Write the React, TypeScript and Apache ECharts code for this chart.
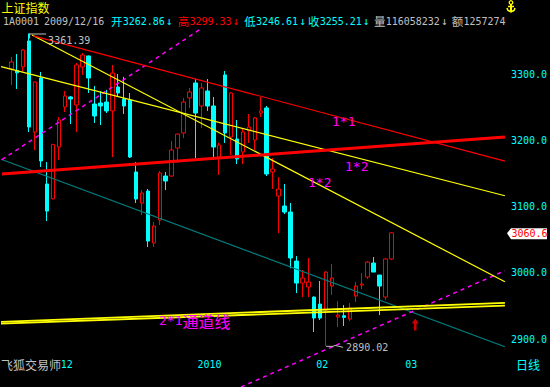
import React, { useEffect, useRef } from "react";
import * as echarts from "echarts";

// ---------- data ----------
// [open, close, low, high]
const candles: number[][] = [
  [3307.8, 3318.4, 3283.7, 3326.0],
  [3305.0, 3302.0, 3277.7, 3330.5],
  [3311.0, 3336.5, 3304.0, 3337.5],
  [3350.1, 3220.3, 3212.8, 3361.39],
  [3212.8, 3288.2, 3185.6, 3289.0],
  [3294.3, 3169.0, 3159.9, 3303.3],
  [3134.3, 3093.5, 3078.4, 3167.5],
  [3112.0, 3194.0, 3111.0, 3195.0],
  [3190.1, 3230.9, 3170.5, 3235.4],
  [3250.5, 3267.1, 3242.9, 3274.6],
  [3265.6, 3262.6, 3224.8, 3267.1],
  [3253.5, 3313.9, 3212.8, 3316.9],
  [3310.9, 3329.0, 3298.8, 3332.0],
  [3327.5, 3294.3, 3271.6, 3328.0],
  [3255.0, 3236.9, 3226.3, 3282.2],
  [3256.5, 3252.0, 3223.3, 3274.6],
  [3258.0, 3244.5, 3241.4, 3276.2],
  [3244.5, 3301.8, 3175.0, 3313.9],
  [3280.7, 3271.6, 3265.6, 3300.3],
  [3262.6, 3252.0, 3240.0, 3296.0],
  [3261.1, 3175.0, 3173.5, 3271.6],
  [3152.4, 3111.6, 3105.6, 3167.5],
  [3105.6, 3120.7, 3087.5, 3125.2],
  [3123.7, 3048.2, 3039.2, 3126.7],
  [3045.2, 3070.9, 3039.2, 3076.9],
  [3079.9, 3150.9, 3072.4, 3153.9],
  [3146.3, 3138.8, 3125.2, 3152.4],
  [3146.3, 3185.6, 3145.0, 3199.2],
  [3188.6, 3209.7, 3166.0, 3210.5],
  [3211.3, 3258.0, 3203.7, 3264.1],
  [3264.1, 3273.1, 3249.0, 3279.2],
  [3286.7, 3241.4, 3173.5, 3292.7],
  [3252.0, 3279.2, 3218.8, 3286.7],
  [3274.6, 3252.0, 3244.5, 3292.7],
  [3252.0, 3190.1, 3175.0, 3265.6],
  [3175.0, 3193.1, 3147.9, 3196.2],
  [3298.8, 3211.3, 3196.2, 3304.8],
  [3205.2, 3271.6, 3178.0, 3273.1],
  [3202.2, 3172.0, 3164.5, 3230.9],
  [3182.6, 3212.8, 3164.5, 3218.8],
  [3214.3, 3220.3, 3196.2, 3239.9],
  [3200.7, 3233.9, 3185.6, 3235.4],
  [3241.4, 3244.5, 3235.4, 3265.6],
  [3249.0, 3149.4, 3146.3, 3252.0],
  [3152.4, 3156.9, 3126.7, 3173.5],
  [3116.2, 3126.7, 3060.3, 3144.8],
  [3101.1, 3092.0, 3089.0, 3134.3],
  [3092.0, 3022.6, 3007.0, 3105.6],
  [3018.0, 2984.8, 2969.7, 3025.6],
  [2984.8, 2992.4, 2963.7, 3004.5],
  [2978.8, 2986.4, 2963.7, 3022.6],
  [2963.7, 2932.0, 2910.9, 2964.5],
  [2953.1, 2932.0, 2929.0, 2987.9],
  [2944.1, 3001.4, 2890.02, 3003.0],
  [2980.3, 2992.4, 2966.7, 3013.5],
  [2933.5, 2936.5, 2918.4, 2957.7],
  [2935.5, 2933.0, 2920.0, 2951.6],
  [2930.5, 2947.1, 2927.5, 2954.6],
  [2965.2, 2980.3, 2956.2, 2986.4],
  [2981.8, 2983.3, 2975.8, 2999.9],
  [2993.9, 3016.5, 2990.9, 3018.0],
  [3015.0, 3001.4, 3001.4, 3024.1],
  [2996.9, 2980.3, 2936.5, 2996.9],
  [2963.7, 3021.1, 2959.2, 3022.6],
  [3021.1, 3060.6, 3019.6, 3061.8],
];

const monthTicks = [8, 31, 51, 66];
const monthLabels = ["12", "2010", "02", "03"];
const priceTicks = [2900, 3000, 3100, 3200, 3300];

// trend lines: [index, price] end points
const line11 = [[3.7, 3357.7], [83.1, 3168.9]];
const lineRedRising = [[-1.57, 3149.4], [83.1, 3205.2]];
const lineYellow12a = [[-1.73, 3311.4], [83.1, 3116.6]];
const lineYellow12b = [[3.49, 3359.2], [83.1, 2986.8]];
const lineTeal = [[-1.73, 3171.6], [83.1, 2888.7]];
const lineChannelA = [[-1.73, 2926.3], [83.1, 2955.0]];
const lineChannelB = [[-1.73, 2923.6], [83.1, 2950.8]];
const lineMagentaUp = [[-1.57, 3171.1], [32.05, 3369.2]];
const lineMagentaLow = [[38.67, 2827.9], [83.1, 3003.4]];
const arrowPoint = [68.0, 2922.2];

const title = "上证指数";
const headerCode = "1A0001";
const headerDate = "2009/12/16";
const quoteNames = ["开", "高", "低", "收", "量", "额"];
const quoteValues = ["3262.86", "3299.33", "3246.61", "3255.21", "116058232", "1257274"];
const footerLeft = "飞狐交易师";
const footerRight = "日线";
const lineTexts = ["1*1", "1*2", "1*2", "2*1", "通道线"];

// ---------- style ----------
const RED = "#FF0000";
const CYAN = "#00FFFF";
const YELLOW = "#FFFF00";
const MAGENTA = "#FF00FF";
const TEAL = "#008080";
const GRAY = "#C0C0C0";
const MONO = '"DejaVu Sans Mono", "Liberation Mono", monospace';
const CJK = '"Noto Sans CJK SC", sans-serif';

const X_MIN = -1.902;
const X_MAX = 83.115;

export default function App() {
  const ref = useRef<HTMLDivElement>(null);

  useEffect(() => {
    const el = ref.current;
    if (!el) return;
    const chart = echarts.init(el, undefined, { renderer: "svg" });

    const candleData = candles.map((c, i) => [i, c[0], c[1], c[2], c[3]]);
    const mkLine = (data: number[][], color: string, width: number, type: any = "solid", z = 3) => ({
      type: "line",
      data,
      symbol: "none",
      silent: true,
      z,
      lineStyle: { color, width, type },
      clip: false,
    });

    const option: any = {
      animation: false,
      backgroundColor: "#000000",
      grid: { left: 0, right: 45, top: 27.8, bottom: 34.5, outerBoundsMode: "none" },
      xAxis: {
        type: "value",
        min: X_MIN,
        max: X_MAX,
        axisLine: { show: false },
        axisTick: { show: false },
        splitLine: { show: false },
        axisLabel: {
          customValues: monthTicks,
          formatter: (v: number) => {
            const k = monthTicks.indexOf(Math.round(v));
            return k >= 0 ? monthLabels[k] : "";
          },
          color: CYAN,
          fontFamily: MONO,
          fontSize: 10,
          align: "left",
          margin: 7,
          padding: [0, 0, 0, 2],
        },
      },
      yAxis: {
        type: "value",
        position: "right",
        min: 2880,
        max: 3370,
        axisLine: { show: false },
        axisTick: { show: false },
        splitLine: { show: false },
        axisLabel: {
          customValues: priceTicks,
          formatter: (v: number) => v.toFixed(1),
          color: CYAN,
          fontFamily: MONO,
          fontSize: 10,
          margin: 6,
        },
      },
      series: [
        {
          type: "candlestick",
          data: candleData,
          encode: { x: 0, y: [1, 2, 3, 4] },
          barWidth: 4,
          z: 2,
          itemStyle: {
            color: "#000000",
            color0: CYAN,
            borderColor: RED,
            borderColor0: CYAN,
            borderWidth: 1,
          },
        },
        mkLine(lineTeal, TEAL, 1.2),
        mkLine(lineMagentaUp, MAGENTA, 1.5, [4, 4]),
        mkLine(lineMagentaLow, MAGENTA, 1.5, [4, 4]),
        mkLine(lineYellow12a, YELLOW, 1.2),
        mkLine(lineYellow12b, YELLOW, 1.2),
        mkLine(line11, RED, 1.2),
        mkLine(lineRedRising, RED, 3),
        mkLine(lineChannelA, YELLOW, 1.8),
        mkLine(lineChannelB, YELLOW, 1.8),
        {
          type: "scatter",
          data: [arrowPoint],
          symbol: "path://M4,0 L8,5 L5.5,5 L5.5,12 L2.5,12 L2.5,5 L0,5 Z",
          symbolSize: [7, 12],
          itemStyle: { color: RED },
          silent: true,
          z: 5,
        },
      ],
    };
    chart.setOption(option);

    // annotations placed through the chart's own scales
    let hiIdx = 0;
    let loIdx = 0;
    candles.forEach((c, i) => {
      if (c[3] > candles[hiIdx][3]) hiIdx = i;
      if (c[2] < candles[loIdx][2]) loIdx = i;
    });
    const hiVal = candles[hiIdx][3];
    const loVal = candles[loIdx][2];
    const lastClose = candles[candles.length - 1][1];
    const [hx, hy] = chart.convertToPixel({ gridIndex: 0 }, [hiIdx, hiVal]) as number[];
    const [lx, ly] = chart.convertToPixel({ gridIndex: 0 }, [loIdx, loVal]) as number[];
    const cy = chart.convertToPixel({ yAxisIndex: 0 }, lastClose) as number;

    const txt = (text: string, x: number, y: number, fill: string, fontSize: number, fontFamily: string, extra: any = {}) => ({
      type: "text",
      x,
      y,
      z: 10,
      silent: true,
      style: { text, fill, fontSize, fontFamily, verticalAlign: "middle", align: "left", ...extra },
    });

    const quoteColors = [CYAN, RED, CYAN, CYAN, GRAY, GRAY];
    const quoteX = [111, 177.7, 244.3, 308, 374, 451.7];
    const graphics: any[] = [
      txt(title, 1.5, 1, YELLOW, 12, CJK, { verticalAlign: "top" }),
      txt(headerCode, 3, 21.5, GRAY, 10, MONO),
      txt(headerDate, 44, 21.5, GRAY, 10, MONO),
    ];
    quoteNames.forEach((n, k) => {
      const x0 = quoteX[k];
      const vx = x0 + 11.7;
      graphics.push(txt(n, x0, 21, quoteColors[k], 11.5, CJK));
      graphics.push(txt(quoteValues[k], vx, 21.5, quoteColors[k], 10, MONO));
      if (k < quoteNames.length - 1) {
        graphics.push(txt("↓", vx + quoteValues[k].length * 6.02 + 1, 21.5, quoteColors[k], 11, MONO));
      }
    });
    // anchor icon
    graphics.push({
      type: "group",
      silent: true,
      z: 10,
      children: [
        { type: "circle", shape: { cx: 511, cy: 2.5, r: 1.8 }, style: { fill: "none", stroke: YELLOW, lineWidth: 1.3 } },
        { type: "line", shape: { x1: 511, y1: 4, x2: 511, y2: 11.5 }, style: { stroke: YELLOW, lineWidth: 2 } },
        { type: "line", shape: { x1: 508, y1: 6.5, x2: 514, y2: 6.5 }, style: { stroke: YELLOW, lineWidth: 1.5 } },
        {
          type: "polyline",
          shape: { points: [[507, 8], [508, 10.5], [511, 11.8], [514, 10.5], [515, 8]] },
          style: { stroke: YELLOW, lineWidth: 1.6, fill: "none" },
        },
      ],
    });
    // high / low labels
    graphics.push({ type: "line", silent: true, z: 1, shape: { x1: hx, y1: hy + 0.5, x2: hx + 17, y2: hy + 0.5 }, style: { stroke: GRAY, lineWidth: 1 } });
    graphics.push({ type: "line", silent: true, z: 1, shape: { x1: hx + 0.5, y1: hy, x2: hx + 0.5, y2: hy + 5 }, style: { stroke: GRAY, lineWidth: 1 } });
    graphics.push(txt(hiVal.toFixed(2), hx + 19, hy + 7, GRAY, 10, MONO, {}));
    graphics.push({
      type: "polyline",
      silent: true,
      z: 10,
      shape: { points: [[lx, ly + 0.5], [lx + 7, ly + 0.5], [lx + 9, ly - 0.5], [lx + 17, ly + 1.5]] },
      style: { stroke: GRAY, lineWidth: 1, fill: "none" },
    });
    graphics.push(txt(loVal.toFixed(2), lx + 20, ly + 2, GRAY, 10, MONO));
    // last price tag
    graphics.push({
      type: "polygon",
      silent: true,
      z: 10,
      shape: { points: [[507, cy + 0.5], [511, cy - 4.5], [547, cy - 4.5], [547, cy + 6.5], [511, cy + 6.5]] },
      style: { fill: "#FFFFFF" },
    });
    graphics.push(txt(lastClose.toFixed(1), 511.5, cy + 1, RED, 10, MONO));
    // line labels
    graphics.push(txt(lineTexts[0], 332, 121, MAGENTA, 13, MONO));
    graphics.push(txt(lineTexts[1], 345, 166, MAGENTA, 13, MONO));
    graphics.push(txt(lineTexts[2], 308, 182.5, MAGENTA, 13, MONO));
    graphics.push(txt(lineTexts[3], 159, 320.5, MAGENTA, 13, MONO));
    graphics.push(txt(lineTexts[4], 182.5, 320.5, MAGENTA, 16, CJK));
    // footer
    graphics.push(txt(footerLeft, 1, 364, GRAY, 12, CJK));
    graphics.push(txt(footerRight, 516, 364, CYAN, 12, CJK));

    chart.setOption({ graphic: graphics });

    return () => {
      chart.dispose();
    };
  }, []);

  return (
    <div
      ref={ref}
      style={{ position: "absolute", left: 0, top: 0, width: 550, height: 387, background: "#000000" }}
    />
  );
}
